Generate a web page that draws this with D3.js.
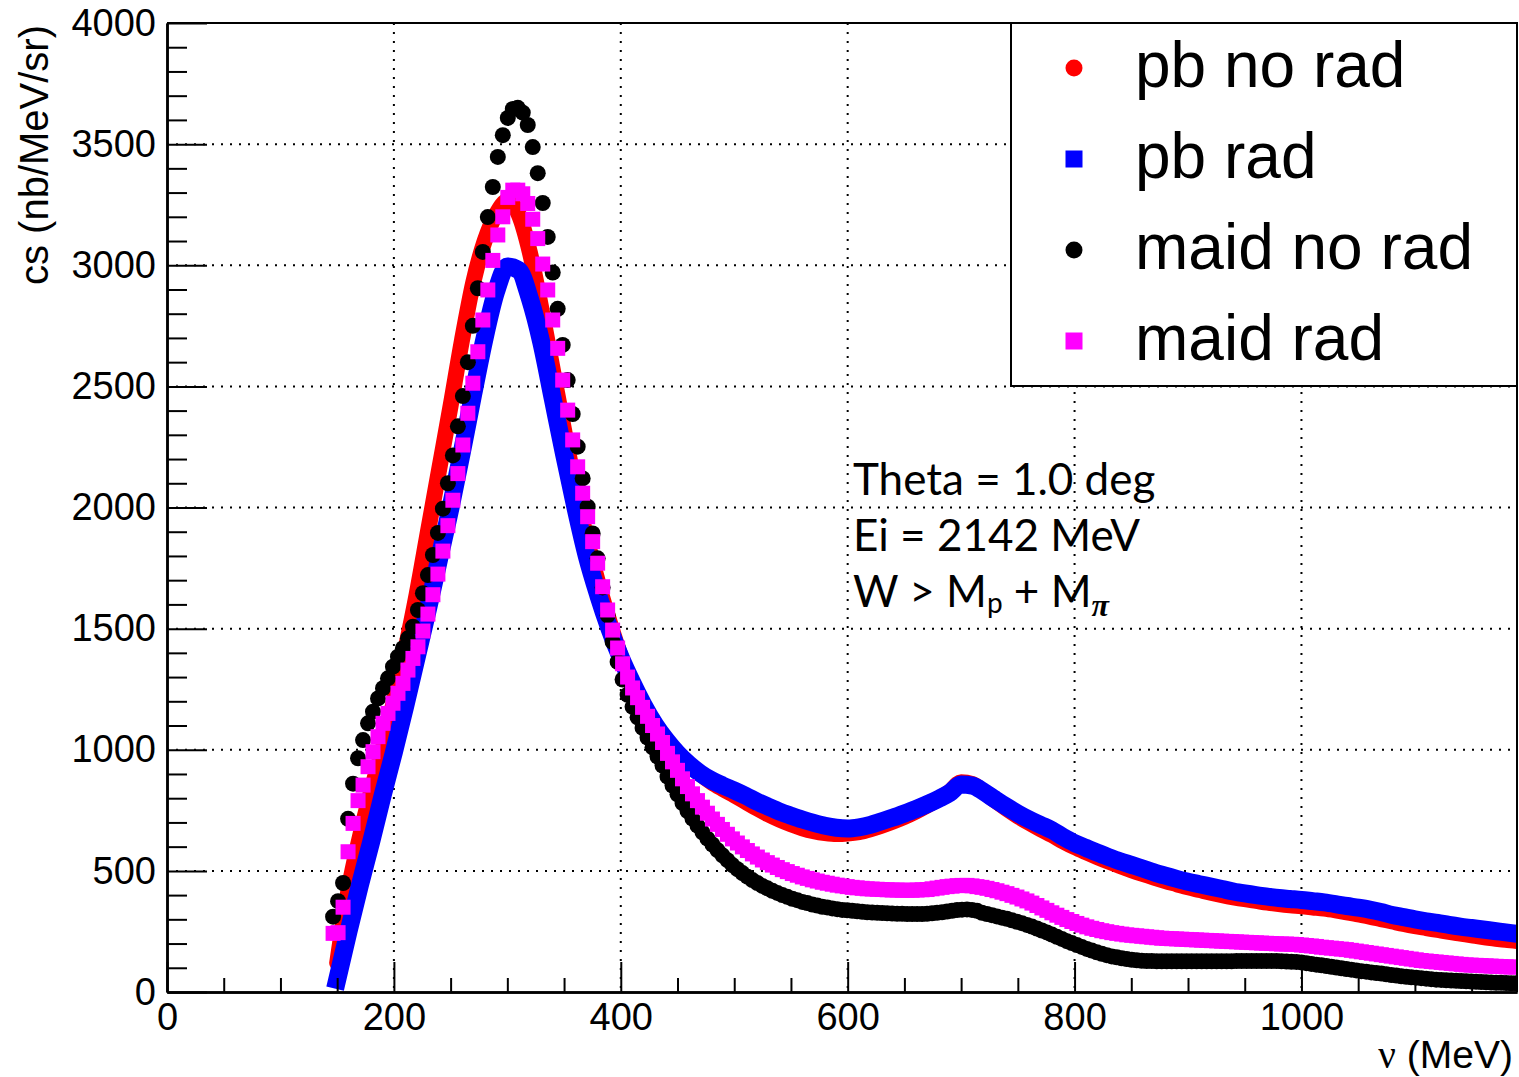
<!DOCTYPE html>
<html>
<head>
<meta charset="utf-8">
<script src="https://cdn.jsdelivr.net/npm/d3@7"></script>
<style>
  body { margin: 0; background: #fff; }
  #chart { width: 1519px; height: 1077px; }
</style>
</head>
<body>
<div id="chart"></div>
<script>
/* DATA */

// pb model curves, sampled every 10 MeV from 150 to 1190 MeV
const nuPb = d3.range(150, 1191, 10);
const pbNoRad = [
  120, 420, 640, 830, 1000, 1200, 1410, 1640, 1900, 2160,
  2420, 2690, 2930, 3100, 3210, 3265, 3210, 3050, 2820, 2570,
  2320, 2080, 1870, 1690, 1530, 1385, 1265, 1178, 1105, 1040,
  985, 940, 900, 866, 838, 812, 785, 758, 733, 711,
  692, 676, 664, 656, 652, 654, 660, 672, 687, 704,
  723, 745, 770, 797, 827, 866, 858, 825, 790, 757,
  726, 698, 672, 648, 622, 598, 577, 557, 538, 520,
  503, 487, 472, 458, 445, 432, 421, 410, 400, 391,
  383, 376, 369, 363, 358, 354, 349, 344, 337, 329,
  320, 311, 301, 291, 281, 272, 264, 256, 248, 241,
  234, 227, 221, 215, 210
];
const pbRad = [
  50, 250, 440, 620, 810, 990, 1180, 1380, 1580, 1790,
  2000, 2230, 2470, 2700, 2890, 2995, 2980, 2860, 2680, 2450,
  2220, 2000, 1800, 1640, 1500, 1380, 1278, 1185, 1105, 1040,
  985, 940, 903, 874, 852, 832, 810, 786, 765, 745,
  728, 712, 698, 686, 678, 675, 680, 690, 705, 720,
  737, 755, 775, 797, 822, 857, 852, 826, 795, 765,
  737, 712, 690, 668, 640, 615, 595, 575, 557, 540,
  525, 510, 494, 480, 467, 455, 445, 435, 425, 415,
  407, 400, 394, 388, 384, 380, 375, 370, 363, 355,
  348, 340, 330, 318, 309, 300, 292, 285, 277, 270,
  264, 258, 252, 246, 240
];

// maid curves, one point every 4.4 MeV starting at 146.4 MeV (238 points)
const nuMaid = d3.range(238).map(k => 146.4 + 4.4 * k);
const maidNoRad = [
  311, 375, 450, 715, 860, 965, 1040, 1109, 1157, 1212,
  1254, 1295, 1343, 1384, 1419, 1460, 1508, 1577, 1646, 1721,
  1804, 1895, 1995, 2100, 2215, 2335, 2460, 2600, 2750, 2905,
  3055, 3199, 3323, 3447, 3537, 3608, 3645, 3650, 3630, 3579,
  3488, 3380, 3257, 3117, 2970, 2820, 2671, 2526, 2386, 2251,
  2120, 2003, 1893, 1790, 1670, 1555, 1445, 1363, 1290, 1227,
  1177, 1134, 1090, 1050, 1010, 972, 935, 889, 852, 816,
  780, 747, 716, 687, 659, 633, 609, 586, 564, 544,
  524, 507, 491, 476, 462, 450, 438, 428, 418, 409,
  400, 393, 385, 379, 372, 367, 361, 357, 352, 349,
  345, 342, 339, 337, 335, 333, 331, 329, 328, 327,
  326, 325, 324, 323, 323, 322, 322, 322, 322, 323,
  325, 327, 329, 332, 335, 338, 340, 341, 339, 335,
  327, 322, 317, 312, 307, 302, 296, 290, 284, 277,
  270, 262, 254, 246, 237, 228, 219, 210, 202, 194,
  186, 178, 171, 164, 158, 152, 147, 143, 139, 136,
  133, 131, 129, 128, 128, 127, 127, 127, 127, 127,
  127, 127, 127, 127, 127, 127, 127, 127, 127, 127,
  127, 128, 128, 128, 128, 128, 128, 128, 128, 128,
  127, 126, 125, 124, 122, 119, 116, 113, 110, 107,
  104, 101, 98, 95, 92, 89, 86, 84, 81, 78,
  76, 73, 70, 68, 65, 63, 61, 59, 57, 55,
  53, 51, 50, 48, 47, 46, 45, 44, 43, 42,
  41, 40, 39, 38, 38, 37, 36, 36
];
const maidRad = [
  242, 245, 350, 579, 696, 790, 854, 930, 992, 1054,
  1109, 1150, 1192, 1233, 1274, 1329, 1377, 1425, 1490, 1560,
  1640, 1725, 1820, 1925, 2030, 2140, 2258, 2389, 2513, 2643,
  2774, 2898, 3020, 3125, 3200, 3280, 3310, 3310, 3295, 3255,
  3190, 3110, 3005, 2898, 2774, 2657, 2526, 2402, 2279, 2168,
  2059, 1962, 1859, 1770, 1673, 1577, 1494, 1420, 1355, 1300,
  1255, 1215, 1175, 1138, 1100, 1065, 1030, 985, 950, 915,
  880, 848, 818, 790, 763, 738, 714, 692, 671, 651,
  632, 615, 599, 584, 570, 557, 545, 534, 524, 514,
  505, 497, 489, 482, 475, 469, 463, 458, 453, 449,
  445, 441, 438, 435, 432, 430, 428, 426, 425, 424,
  423, 422, 421, 421, 420, 420, 420, 421, 422, 423,
  426, 429, 432, 435, 437, 439, 440, 440, 438, 435,
  432, 428, 423, 418, 412, 406, 399, 392, 384, 376,
  367, 357, 347, 337, 327, 317, 308, 299, 291, 283,
  276, 269, 263, 258, 253, 249, 245, 242, 239, 236,
  234, 232, 230, 228, 226, 224, 222, 221, 220, 219,
  218, 217, 216, 215, 214, 213, 212, 211, 210, 209,
  208, 207, 206, 205, 204, 203, 202, 201, 200, 199,
  198, 198, 197, 196, 194, 192, 190, 188, 185, 183,
  181, 179, 177, 175, 172, 169, 166, 163, 160, 157,
  154, 151, 148, 145, 142, 139, 136, 133, 130, 128,
  126, 124, 122, 120, 118, 116, 114, 112, 111, 110,
  109, 108, 107, 106, 105, 104, 103, 103
];

// axes ticks
const xTicks = [0, 200, 400, 600, 800, 1000];
const xMinor = d3.range(50, 1190, 50).filter(d => d % 200 !== 0);
const yTicks = [0, 500, 1000, 1500, 2000, 2500, 3000, 3500, 4000];
const yMinor = d3.range(100, 4000, 100).filter(d => d % 500 !== 0);
const xGrid = [200, 400, 600, 800, 1000];
const yGrid = [500, 1000, 1500, 2000, 2500, 3000, 3500];

const legendLabels = ["pb no rad", "pb rad", "maid no rad", "maid rad"];
const legendColors = ["#ff0000", "#0000ff", "#000000", "#ff00ff"];
const legendShapes = ["circle", "square", "circle", "square"];
const noteLines = ["Theta = 1.0 deg", "Ei = 2142 MeV"];

/* SVG CANVAS */
const width = 1519;
const height = 1077;
const frame = {left: 167, right: 1517, top: 23, bottom: 992};
const sansFont = "'Liberation Sans', Arial, Helvetica, sans-serif";

const svg = d3.select("#chart")
  .append("svg")
  .attr("width", width)
  .attr("height", height);

svg.append("rect")
  .attr("width", width)
  .attr("height", height)
  .attr("fill", "#fff");

/* SCALES */
const xScale = d3.scaleLinear()
  .domain([0, 1190])
  .range([frame.left, frame.right]);

const yScale = d3.scaleLinear()
  .domain([0, 4000])
  .range([frame.bottom, frame.top]);

/* GRID */
const grid = svg.append("g")
  .attr("stroke", "#000")
  .attr("stroke-width", 2)
  .attr("stroke-dasharray", "2,7");

grid.selectAll(".gx")
  .data(xGrid)
  .join("line")
  .attr("x1", d => xScale(d)).attr("x2", d => xScale(d))
  .attr("y1", frame.top).attr("y2", frame.bottom);

grid.selectAll(".gy")
  .data(yGrid)
  .join("line")
  .attr("x1", frame.left).attr("x2", frame.right)
  .attr("y1", d => yScale(d)).attr("y2", d => yScale(d));

/* MARKS */
svg.append("clipPath")
  .attr("id", "plotClip")
  .append("rect")
  .attr("x", frame.left).attr("y", frame.top)
  .attr("width", frame.right - frame.left)
  .attr("height", frame.bottom - frame.top);

const plot = svg.append("g").attr("clip-path", "url(#plotClip)");

const line = d3.line()
  .x(d => xScale(d[0]))
  .y(d => yScale(d[1]))
  .curve(d3.curveMonotoneX);

plot.append("path")
  .datum(d3.zip(nuPb, pbNoRad))
  .attr("d", line)
  .attr("fill", "none")
  .attr("stroke", "#ff0000")
  .attr("stroke-width", 16)
  .attr("stroke-linejoin", "round")
  .attr("stroke-linecap", "round");

plot.append("path")
  .datum(d3.zip(nuPb, pbRad))
  .attr("d", line)
  .attr("fill", "none")
  .attr("stroke", "#0000ff")
  .attr("stroke-width", 18)
  .attr("stroke-linejoin", "round")
  .attr("stroke-linecap", "square");

plot.selectAll(".maidNoRad")
  .data(d3.zip(nuMaid, maidNoRad))
  .join("circle")
  .attr("cx", d => xScale(d[0]))
  .attr("cy", d => yScale(d[1]))
  .attr("r", 8)
  .attr("fill", "#000");

const sq = 15;
plot.selectAll(".maidRad")
  .data(d3.zip(nuMaid, maidRad))
  .join("rect")
  .attr("x", d => xScale(d[0]) - sq / 2)
  .attr("y", d => yScale(d[1]) - sq / 2)
  .attr("width", sq)
  .attr("height", sq)
  .attr("fill", "#ff00ff");

/* AXES */
function styleAxis(g) {
  g.attr("font-family", sansFont).attr("font-size", 38);
  g.selectAll(".tick line").attr("stroke", "#000").attr("stroke-width", 2);
  g.select(".domain").attr("stroke", "#000").attr("stroke-width", 2.5);
  g.selectAll("text").attr("fill", "#000");
}

svg.append("g")
  .attr("transform", `translate(0,${frame.bottom})`)
  .call(d3.axisBottom(xScale).tickValues(xMinor).tickSize(-14).tickSizeOuter(0).tickFormat(""))
  .call(styleAxis);

svg.append("g")
  .attr("transform", `translate(0,${frame.bottom})`)
  .call(d3.axisBottom(xScale).tickValues(xTicks).tickSize(-30).tickSizeOuter(0).tickPadding(11).tickFormat(d3.format("d")))
  .call(styleAxis);

svg.append("g")
  .attr("transform", `translate(${frame.left},0)`)
  .call(d3.axisLeft(yScale).tickValues(yMinor).tickSize(-20).tickSizeOuter(0).tickFormat(""))
  .call(styleAxis);

svg.append("g")
  .attr("transform", `translate(${frame.left},0)`)
  .call(d3.axisLeft(yScale).tickValues(yTicks).tickSize(-40).tickSizeOuter(0).tickPadding(11).tickFormat(d3.format("d")))
  .call(styleAxis);

// frame top and right
svg.append("path")
  .attr("d", `M${frame.left},${frame.top}H${frame.right}V${frame.bottom}`)
  .attr("fill", "none")
  .attr("stroke", "#000")
  .attr("stroke-width", 2);

/* AXIS LABELS */
const xLabel = svg.append("text")
  .attr("x", 1513)
  .attr("y", 1068)
  .attr("text-anchor", "end")
  .attr("font-family", sansFont)
  .attr("font-size", 39);
xLabel.append("tspan").attr("font-family", "'Liberation Serif', 'DejaVu Serif', serif").text("\u03BD");
xLabel.append("tspan").text("  (MeV)");

svg.append("text")
  .attr("transform", "translate(48,25) rotate(-90)")
  .attr("text-anchor", "end")
  .attr("font-family", sansFont)
  .attr("font-size", 40)
  .text("cs (nb/MeV/sr)");

/* LEGEND */
const legend = svg.append("g");
legend.append("rect")
  .attr("x", 1011).attr("y", frame.top)
  .attr("width", frame.right - 1011).attr("height", 386 - frame.top)
  .attr("fill", "#fff")
  .attr("stroke", "#000")
  .attr("stroke-width", 2);

const rowY = d3.scaleLinear().domain([0, 3]).range([68, 341]);
const entries = legend.selectAll(".entry")
  .data(legendLabels)
  .join("g")
  .attr("transform", (d, i) => `translate(1074,${rowY(i)})`);

entries.each(function(d, i) {
  const g = d3.select(this);
  if (legendShapes[i] === "circle") {
    g.append("circle").attr("r", 8.5).attr("fill", legendColors[i]);
  } else {
    g.append("rect").attr("x", -8.5).attr("y", -8.5).attr("width", 17).attr("height", 17).attr("fill", legendColors[i]);
  }
});

entries.append("text")
  .attr("x", 61)
  .attr("y", 19)
  .attr("font-family", sansFont)
  .attr("font-size", 64)
  .attr("fill", "#000")
  .text(d => d);

/* ANNOTATION */
const noteFont = "Lato, 'Open Sans', sans-serif";
svg.selectAll(".note")
  .data(noteLines)
  .join("text")
  .attr("x", 853)
  .attr("y", (d, i) => 495 + i * 56)
  .attr("font-family", noteFont)
  .attr("font-size", 44)
  .attr("fill", "#000")
  .text(d => d);

const note3 = svg.append("text")
  .attr("x", 853)
  .attr("y", 607)
  .attr("font-family", noteFont)
  .attr("font-size", 44)
  .attr("fill", "#000");
note3.append("tspan").text("W > M");
note3.append("tspan").attr("font-size", 28).attr("dy", 6).text("p");
note3.append("tspan").attr("dy", -6).text(" + M");
note3.append("tspan")
  .attr("font-size", 32)
  .attr("dy", 9)
  .attr("font-weight", "bold")
  .attr("font-style", "italic")
  .attr("font-family", "'Liberation Serif', 'DejaVu Serif', serif")
  .text("\u03C0");
</script>
</body>
</html>
